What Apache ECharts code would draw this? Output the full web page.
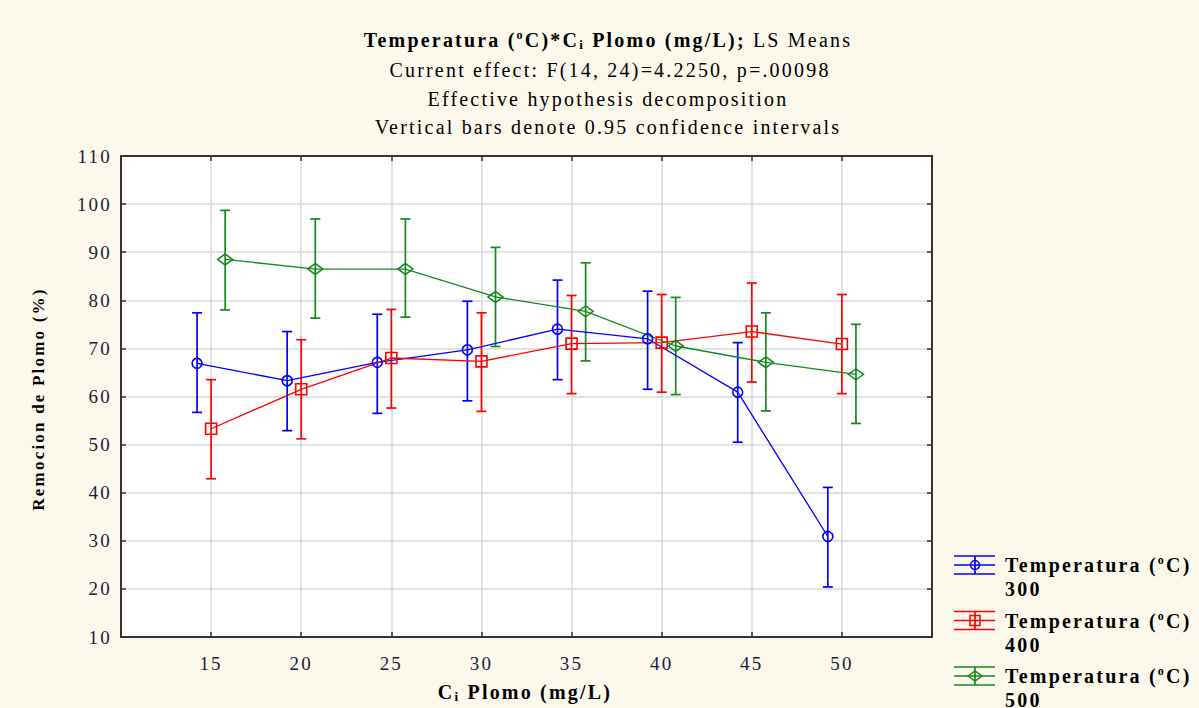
<!DOCTYPE html>
<html>
<head>
<meta charset="utf-8">
<script src="https://cdn.jsdelivr.net/npm/echarts@6/dist/echarts.min.js"></script>
<style>
  html, body { margin: 0; padding: 0; background: #fdf8ec; }
  #chart { width: 1199px; height: 708px; }
  #chart svg text { letter-spacing: 2.2px; }
</style>
</head>
<body>
<div id="chart"></div>
<script>
// Lead removal (%) LS means with 95% confidence limits, by initial lead concentration and temperature
const conc = [15, 20, 25, 30, 35, 40, 45, 50];
const tempLabels = ['300', '400', '500'];

const mean300 = [66.9, 63.3, 67.1, 69.7, 74.0, 72.0, 60.9, 30.9];
const low300  = [56.7, 52.9, 56.5, 59.1, 63.5, 61.5, 50.5, 20.4];
const high300 = [77.4, 73.5, 77.1, 79.8, 84.2, 81.9, 71.2, 41.1];

const mean400 = [53.3, 61.5, 68.0, 67.3, 71.0, 71.2, 73.5, 70.9];
const low400  = [42.9, 51.2, 57.6, 56.9, 60.6, 60.9, 63.0, 60.6];
const high400 = [63.5, 71.8, 78.1, 77.4, 81.0, 81.2, 83.6, 81.2];

const mean500 = [88.5, 86.5, 86.5, 80.7, 77.7, 70.5, 67.1, 64.6];
const low500  = [78.0, 76.3, 76.5, 70.4, 67.4, 60.4, 57.0, 54.4];
const high500 = [98.7, 96.9, 96.9, 91.0, 87.8, 80.6, 77.4, 75.0];

const yTicks = { min: 10, max: 110, interval: 10 };
const xTicks = { min: 10, max: 55, interval: 5 };

// drawing settings
const LS = 2.2;                       // letter spacing used by the css rule above
const FONT = "'Liberation Serif', 'Times New Roman', serif";
const colors = ['#0000ff', '#ff0000', '#15891a'];
const symbols = ['circle', 'rect', 'diamond'];
const symbolSizes = [10, 11, [15, 11]];
const dodge = [-0.78, 0, 0.78];
const tickColor = '#221c3c';

// keep text measurement in step with the letter spacing
const mctx = document.createElement('canvas').getContext('2d');
echarts.setPlatformAPI({
  measureText(text, font) {
    mctx.font = font;
    return { width: mctx.measureText(text).width + LS * String(text).length };
  }
});

const groups = [
  { mean: mean300, low: low300, high: high300 },
  { mean: mean400, low: low400, high: high400 },
  { mean: mean500, low: low500, high: high500 }
];

const series = [];
groups.forEach((g, k) => {
  const c = colors[k];
  series.push({
    type: 'custom',
    name: tempLabels[k] + ' ci',
    z: 3,
    silent: true,
    data: conc.map((x, i) => [x + dodge[k], g.low[i], g.high[i]]),
    encode: { x: 0, y: [1, 2] },
    renderItem(params, api) {
      const x = api.value(0);
      const top = api.coord([x, api.value(2)]);
      const bot = api.coord([x, api.value(1)]);
      const w = 5;
      const style = { stroke: c, lineWidth: 1.7, fill: null };
      return {
        type: 'group',
        children: [
          { type: 'line', shape: { x1: top[0], y1: top[1], x2: bot[0], y2: bot[1] }, style },
          { type: 'line', shape: { x1: top[0] - w, y1: top[1], x2: top[0] + w, y2: top[1] }, style },
          { type: 'line', shape: { x1: bot[0] - w, y1: bot[1], x2: bot[0] + w, y2: bot[1] }, style }
        ]
      };
    }
  });
  series.push({
    type: 'line',
    name: tempLabels[k],
    z: 4,
    silent: true,
    data: conc.map((x, i) => [x + dodge[k], g.mean[i]]),
    symbol: symbols[k],
    symbolSize: symbolSizes[k],
    lineStyle: { color: c, width: 1.3 },
    itemStyle: { color: 'rgba(255,255,255,0)', borderColor: c, borderWidth: 1.6 }
  });
});

// legend drawn as graphic items so the icon lines up with the first text line
const legendItems = [];
tempLabels.forEach((t, k) => {
  const c = colors[k];
  const yc = 565 + k * 55.5;
  const x0 = 954, x1 = 995, xm = 975;
  const st = { stroke: c, lineWidth: 1.7, fill: null };
  let marker;
  if (symbols[k] === 'circle') {
    marker = { type: 'circle', shape: { cx: xm, cy: yc, r: 4.5 }, style: { stroke: c, lineWidth: 1.5, fill: null } };
  } else if (symbols[k] === 'rect') {
    marker = { type: 'rect', shape: { x: xm - 5, y: yc - 5, width: 10, height: 10 }, style: { stroke: c, lineWidth: 1.5, fill: null } };
  } else {
    marker = { type: 'polygon', shape: { points: [[xm - 7, yc], [xm, yc - 5], [xm + 7, yc], [xm, yc + 5]] }, style: { stroke: c, lineWidth: 1.5, fill: null } };
  }
  legendItems.push({
    type: 'group',
    children: [
      { type: 'line', shape: { x1: x0, y1: yc - 9, x2: x1, y2: yc - 9 }, style: st },
      { type: 'line', shape: { x1: x0, y1: yc, x2: x1, y2: yc }, style: st },
      { type: 'line', shape: { x1: x0, y1: yc + 9, x2: x1, y2: yc + 9 }, style: st },
      { type: 'line', shape: { x1: xm, y1: yc - 9, x2: xm, y2: yc + 9 }, style: st },
      marker,
      {
        type: 'text',
        style: {
          x: 1005, y: yc - 12,
          text: '{b|Temperatura (}{s|o}{b|C)}\n{b|' + t + '}',
          textAlign: 'left', textVerticalAlign: 'top',
          rich: {
            b: { fontFamily: FONT, fontWeight: 'bold', fontSize: 20, lineHeight: 24, fill: '#000' },
            s: { fontFamily: FONT, fontWeight: 'bold', fontSize: 12, lineHeight: 24, verticalAlign: 'top', padding: [0, 0, 10, 0], fill: '#000' }
          }
        }
      }
    ]
  });
});

const titleRich = {
  b: { fontFamily: FONT, fontWeight: 'bold', fontSize: 20, lineHeight: 24, fill: '#000' },
  n: { fontFamily: FONT, fontSize: 20, lineHeight: 24, fill: '#000' },
  sup: { fontFamily: FONT, fontWeight: 'bold', fontSize: 12, lineHeight: 24, padding: [0, 0, 10, 0], fill: '#000' },
  sub: { fontFamily: FONT, fontWeight: 'bold', fontSize: 13, lineHeight: 14, verticalAlign: 'bottom', fill: '#000' }
};

const graphic = [
  {
    type: 'text',
    style: {
      x: 608, y: 40,
      text: '{b|Temperatura (}{sup|o}{b|C)*C}{sub|i}{b| Plomo (mg/L);}{n| LS Means}',
      textAlign: 'center', textVerticalAlign: 'middle', rich: titleRich
    }
  },
  { type: 'text', style: { x: 610, y: 70, text: 'Current effect: F(14, 24)=4.2250, p=.00098', font: '20px ' + FONT, fill: '#000', textAlign: 'center', textVerticalAlign: 'middle' } },
  { type: 'text', style: { x: 608, y: 99, text: 'Effective hypothesis decomposition', font: '20px ' + FONT, fill: '#000', textAlign: 'center', textVerticalAlign: 'middle' } },
  { type: 'text', style: { x: 608, y: 127, text: 'Vertical bars denote 0.95 confidence intervals', font: '20px ' + FONT, fill: '#000', textAlign: 'center', textVerticalAlign: 'middle' } },
  {
    type: 'text',
    style: {
      x: 525, y: 692,
      text: '{b|C}{sub|i}{b| Plomo (mg/L)}',
      textAlign: 'center', textVerticalAlign: 'middle', rich: titleRich
    }
  },
  {
    type: 'text',
    x: 38, y: 399, rotation: Math.PI / 2,
    style: {
      x: 0, y: 0,
      text: 'Remocion de Plomo (%)',
      font: 'bold 17px ' + FONT, fill: '#000',
      textAlign: 'center', textVerticalAlign: 'middle'
    }
  }
].concat(legendItems);

const axisTick = { show: true, inside: true, length: 5, lineStyle: { color: '#333', width: 1.5 } };
const axisLine = { show: true, lineStyle: { color: '#333', width: 2 } };
const splitLine = { show: true, lineStyle: { color: '#d9d9d9', width: 1.5 } };

const option = {
  backgroundColor: '#fdf8ec',
  animation: false,
  grid: { left: 121, top: 156, width: 811, height: 481, show: true, backgroundColor: '#ffffff', borderWidth: 0 },
  xAxis: [
    {
      type: 'value', min: xTicks.min, max: xTicks.max, interval: xTicks.interval,
      axisLine, axisTick, splitLine,
      axisLabel: {
        margin: 16, fontFamily: FONT, fontSize: 19, color: tickColor,
        formatter: v => (v > xTicks.min && v < xTicks.max ? String(v) : '')
      }
    },
    {
      type: 'value', position: 'top', min: xTicks.min, max: xTicks.max, interval: xTicks.interval,
      axisLine, axisTick, splitLine: { show: false }, axisLabel: { show: false }
    }
  ],
  yAxis: [
    {
      type: 'value', min: yTicks.min, max: yTicks.max, interval: yTicks.interval,
      axisLine, axisTick, splitLine,
      axisLabel: { margin: 9, fontFamily: FONT, fontSize: 19, color: tickColor }
    },
    {
      type: 'value', position: 'right', min: yTicks.min, max: yTicks.max, interval: yTicks.interval,
      axisLine, axisTick, splitLine: { show: false }, axisLabel: { show: false }
    }
  ],
  graphic,
  series
};

const chart = echarts.init(document.getElementById('chart'), null, { renderer: 'svg' });
chart.setOption(option);
</script>
</body>
</html>
